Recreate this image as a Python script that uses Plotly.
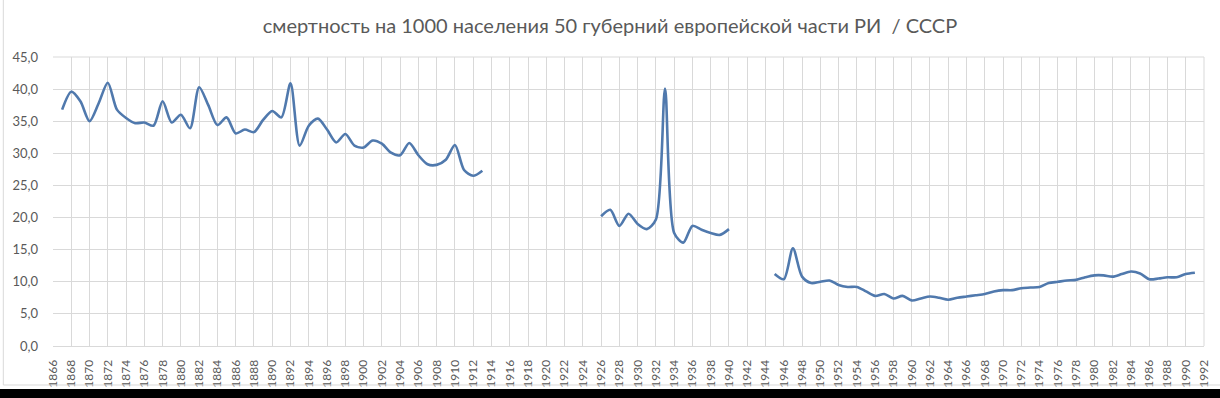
import plotly.graph_objects as go

years_ri = list(range(1867, 1914))
vals_ri = [36.8, 39.6, 38.1, 35.0, 37.8, 41.0, 36.8, 35.5, 34.7, 34.8,
           34.3, 38.1, 34.8, 36.0, 33.9, 40.3, 37.5, 34.4, 35.6, 33.1,
           33.7, 33.3, 35.2, 36.6, 35.6, 40.9, 31.2, 34.3, 35.4, 33.7,
           31.7, 33.0, 31.2, 30.9, 32.0, 31.5, 30.1, 29.7, 31.6, 29.7,
           28.3, 28.2, 29.0, 31.3, 27.4, 26.5, 27.3]

years_ussr1 = list(range(1926, 1941))
vals_ussr1 = [20.2, 21.2, 18.7, 20.6, 19.0, 18.2, 19.7, 40.1, 17.6, 16.1,
              18.7, 18.1, 17.6, 17.3, 18.2]

years_ussr2 = list(range(1945, 1992))
vals_ussr2 = [11.2, 10.4, 15.2, 10.8, 9.8, 10.0, 10.2, 9.5, 9.2, 9.2,
              8.5, 7.8, 8.1, 7.4, 7.8, 7.1, 7.4, 7.7, 7.5, 7.2,
              7.5, 7.7, 7.9, 8.1, 8.5, 8.7, 8.7, 9.0, 9.1, 9.2,
              9.8, 10.0, 10.2, 10.3, 10.7, 11.0, 11.0, 10.8, 11.2, 11.6,
              11.3, 10.4, 10.5, 10.7, 10.7, 11.2, 11.4]

title_text = "смертность на 1000 населения 50 губерний европейской части РИ  / СССР"
x_ticks = list(range(1866, 1993, 2))
y_ticks = list(range(0, 46, 5))

color = "#5079ad"
fig = go.Figure()
for xs, ys in [(years_ri, vals_ri), (years_ussr1, vals_ussr1), (years_ussr2, vals_ussr2)]:
    fig.add_trace(go.Scatter(x=xs, y=ys, mode="lines",
                             line=dict(color=color, width=2.6, shape="spline", smoothing=0.8),
                             showlegend=False, hoverinfo="x+y"))

grid = "#d9d9d9"
fig.update_layout(
    width=1220, height=398,
    margin=dict(l=53, r=9, t=57, b=52),
    paper_bgcolor="white", plot_bgcolor="white",
    separators=", ",
    title=dict(text=title_text, x=0.5, xanchor="center", y=0.935, yanchor="middle",
               font=dict(family="Lato", size=20, color="#595959")),
    font=dict(family="Lato", color="#595959"),
    xaxis=dict(range=[1866, 1992], tickmode="array", tickvals=x_ticks,
               ticktext=[str(v) for v in x_ticks], tickangle=-90,
               showgrid=True, gridcolor=grid, gridwidth=1,
               showline=True, linecolor=grid, linewidth=1, mirror=False,
               zeroline=False, ticks="", tickfont=dict(size=12, color="#595959"),
               ticklabelstandoff=8),
    yaxis=dict(range=[0, 45], tickmode="array", tickvals=y_ticks,
               ticktext=[f"{v:.1f}".replace(".", ",") for v in y_ticks],
               showgrid=True, gridcolor=grid, gridwidth=1,
               zeroline=False, showline=False, ticks="",
               tickfont=dict(size=13, color="#595959"),
               ticklabelstandoff=14),
    shapes=[
        dict(type="rect", xref="paper", yref="paper", x0=-0.1, x1=1.1,
             y0=(346 - 399) / 289, y1=(346 - 389) / 289,
             fillcolor="black", line=dict(width=0), layer="above"),
        dict(type="line", xref="paper", yref="paper",
             x0=(3 - 53) / 1158, x1=(3 - 53) / 1158, y0=(346 - 385) / 289, y1=(346 - 0) / 289,
             line=dict(color="#d9d9d9", width=1)),
        dict(type="line", xref="paper", yref="paper",
             x0=(3 - 53) / 1158, x1=1.1, y0=(346 - 385) / 289, y1=(346 - 385) / 289,
             line=dict(color="#d9d9d9", width=1)),
        dict(type="line", xref="paper", yref="paper", x0=1, x1=1, y0=0, y1=1,
             line=dict(color=grid, width=1), layer="below"),
        dict(type="line", xref="paper", yref="paper", x0=0, x1=1, y0=1, y1=1,
             line=dict(color=grid, width=1), layer="below"),
    ],
)

fig.write_html("out.html", config={"displayModeBar": False},
               post_script="document.body.style.margin='0px';document.body.style.overflow='hidden';")
